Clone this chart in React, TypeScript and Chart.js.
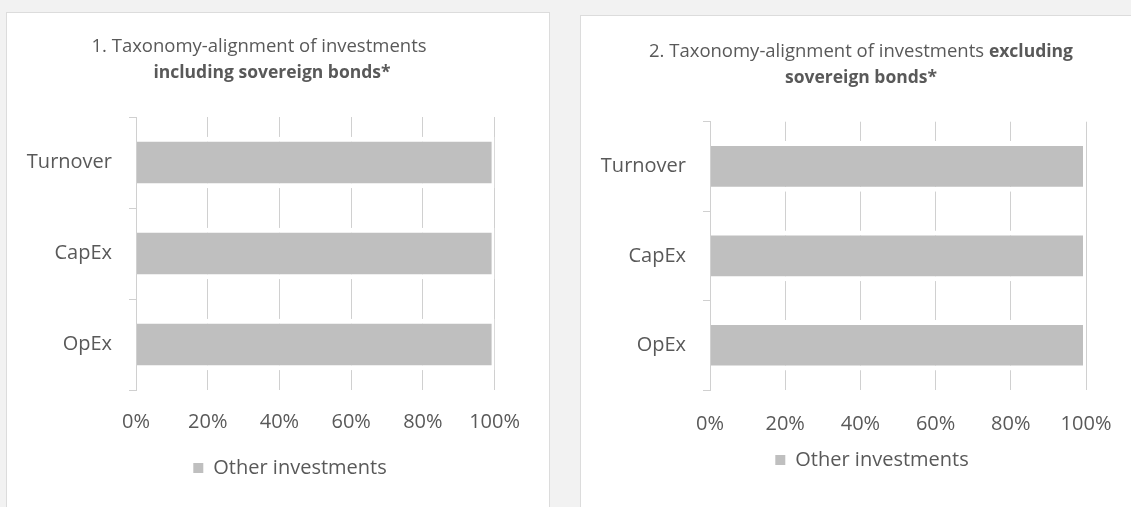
import React, { useEffect, useRef } from 'react';
import { Chart, registerables } from 'chart.js';

Chart.register(...registerables);

// ---------- data ----------
const categories = ['Turnover', 'CapEx', 'OpEx'];
const otherInvestmentsIncl = [100, 100, 100];
const otherInvestmentsExcl = [100, 100, 100];
const xTickValues = [0, 20, 40, 60, 80, 100];
const seriesName = 'Other investments';
const title1Lines = [
  [{ text: '1. Taxonomy-alignment of investments', bold: false }],
  [{ text: 'including sovereign bonds*', bold: true }],
];
const title2Lines = [
  [
    { text: '2. Taxonomy-alignment of investments ', bold: false },
    { text: 'excluding', bold: true },
  ],
  [{ text: 'sovereign bonds*', bold: true }],
];

// ---------- styles ----------
const FONT = '"Open Sans", "Noto Sans", sans-serif';
const TEXT = '#595959';
const BAR = '#bfbfbf';
const GRID = '#d0d0d0';

type Run = { text: string; bold: boolean };

interface PanelSpec {
  values: number[];
  title: Run[][];
  titleX: number[];
  titleY: number[];
  padding: { top: number; left: number; right: number; bottom: number };
  yWidth: number;
  rightGap: number;
  xHeight: number;
  xTickPad: number;
}

function runFont(r: Run) {
  return r.bold ? `bold 17.5px ${FONT}` : `18.5px ${FONT}`;
}

function makeTitlePlugin(spec: PanelSpec) {
  return {
    id: 'mixedTitle',
    afterDraw(chart: any) {
      const ctx = chart.ctx as CanvasRenderingContext2D;
      ctx.save();
      ctx.fillStyle = TEXT;
      ctx.textBaseline = 'middle';
      ctx.textAlign = 'left';
      spec.title.forEach((runs, i) => {
        const widths = runs.map((r) => {
          ctx.font = runFont(r);
          return ctx.measureText(r.text).width;
        });
        const total = widths.reduce((a, b) => a + b, 0);
        let x = spec.titleX[i] - total / 2;
        runs.forEach((r, j) => {
          ctx.font = runFont(r);
          ctx.fillText(r.text, x, spec.titleY[i]);
          x += widths[j];
        });
      });
      ctx.restore();
    },
  };
}

function buildConfig(spec: PanelSpec): any {
  return {
    type: 'bar',
    data: {
      labels: categories,
      datasets: [
        {
          label: seriesName,
          data: spec.values,
          backgroundColor: BAR,
          borderColor: '#ffffff',
          borderWidth: { top: 5, right: 3, bottom: 5, left: 0 },
          borderSkipped: false,
          barPercentage: 0.566,
          categoryPercentage: 1,
        },
      ],
    },
    options: {
      indexAxis: 'y',
      responsive: false,
      animation: false,
      devicePixelRatio: 1,
      layout: { padding: spec.padding },
      plugins: {
        title: { display: false },
        tooltip: { enabled: false },
        legend: {
          display: true,
          position: 'bottom',
          align: 'center',
          labels: {
            boxWidth: 10,
            boxHeight: 10,
            padding: 10,
            color: TEXT,
            font: { family: FONT, size: 20 },
            generateLabels: () => [
              {
                text: seriesName,
                fillStyle: BAR,
                strokeStyle: BAR,
                lineWidth: 0,
                hidden: false,
                datasetIndex: 0,
                fontColor: TEXT,
              },
            ],
          },
        },
      },
      scales: {
        x: {
          type: 'linear',
          position: 'bottom',
          min: 0,
          max: 100,
          afterBuildTicks: (s: any) => {
            s.ticks = xTickValues.map((v) => ({ value: v }));
          },
          afterFit: (s: any) => {
            s.height = spec.xHeight;
          },
          ticks: {
            callback: (v: any) => `${v}%`,
            padding: spec.xTickPad,
            color: TEXT,
            font: { family: FONT, size: 20 },
          },
          grid: { color: GRID, lineWidth: 1, drawTicks: false },
          border: { display: false },
        },
        y: {
          type: 'category',
          position: 'left',
          afterFit: (s: any) => {
            s.width = spec.yWidth;
          },
          ticks: {
            padding: 17,
            color: TEXT,
            font: { family: FONT, size: 20 },
          },
          grid: {
            drawOnChartArea: false,
            drawTicks: true,
            tickLength: 7,
            color: GRID,
            lineWidth: 1,
            offset: true,
          },
          border: { display: true, color: GRID, width: 1, z: 1 },
        },
        // empty spacer on the right so the legend centres like the original
        yRight: {
          type: 'category',
          position: 'right',
          afterFit: (s: any) => {
            s.width = spec.rightGap;
          },
          ticks: { display: false },
          grid: { display: false },
          border: { display: false },
        },
      },
    },
    plugins: [makeTitlePlugin(spec)],
  };
}

// canvas 1 sits at page (6,12); canvas 2 at page (580,15)
const spec1: PanelSpec = {
  values: otherInvestmentsIncl,
  title: title1Lines,
  titleX: [253, 266],
  titleY: [35, 61],
  padding: { top: 105, left: 10, right: 12, bottom: 19 },
  yWidth: 120,
  rightGap: 69.4,
  xHeight: 58,
  xTickPad: 20.5,
};

const spec2: PanelSpec = {
  values: otherInvestmentsExcl,
  title: title2Lines,
  titleX: [281, 281],
  titleY: [37, 63],
  padding: { top: 106.7, left: 10, right: 16, bottom: 27 },
  yWidth: 120,
  rightGap: 68,
  xHeight: 50,
  xTickPad: 22,
};

export default function App() {
  const ref1 = useRef<HTMLCanvasElement>(null);
  const ref2 = useRef<HTMLCanvasElement>(null);

  useEffect(() => {
    const c1 = new Chart(ref1.current as HTMLCanvasElement, buildConfig(spec1));
    const c2 = new Chart(ref2.current as HTMLCanvasElement, buildConfig(spec2));
    return () => {
      c1.destroy();
      c2.destroy();
    };
  }, []);

  const panelStyle: React.CSSProperties = {
    position: 'absolute',
    background: '#ffffff',
    border: '1px solid #dcdcdc',
    boxSizing: 'border-box',
  };

  return (
    <div
      style={{
        position: 'fixed',
        left: 0,
        top: 0,
        width: 1131,
        height: 507,
        overflow: 'hidden',
        background: '#f2f2f2',
      }}
    >
      <div style={{ ...panelStyle, left: 6, top: 12, width: 544, height: 520 }} />
      <div style={{ ...panelStyle, left: 580, top: 15, width: 580, height: 520 }} />
      <canvas
        ref={ref1}
        width={570}
        height={495}
        style={{ position: 'absolute', left: 6, top: 12, width: 570, height: 495 }}
      />
      <canvas
        ref={ref2}
        width={590}
        height={492}
        style={{ position: 'absolute', left: 580, top: 15, width: 590, height: 492 }}
      />
    </div>
  );
}
